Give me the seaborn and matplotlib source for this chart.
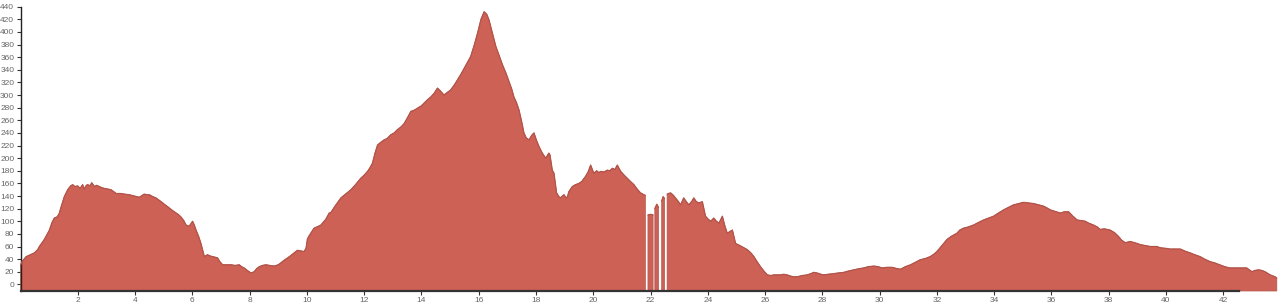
import numpy as np
import pandas as pd
import matplotlib
matplotlib.use("Agg")
import matplotlib.pyplot as plt
import seaborn as sns

NA = float("nan")

# distance (km) and elevation (m); NaN marks missing samples (gaps)
km = [
    0.00, 0.05, 0.20, 0.35, 0.49, 0.60, 0.66, 0.83, 1.01, 1.10, 1.18, 1.28, 1.35, 1.42, 1.53, 1.65,
    1.75, 1.82, 1.90, 2.00, 2.08, 2.17, 2.23, 2.30, 2.35, 2.42, 2.49, 2.58, 2.66, 2.75, 2.85, 2.93,
    3.05, 3.16, 3.25, 3.34, 3.50, 3.63, 3.80, 3.97, 4.15, 4.25, 4.32, 4.42, 4.50, 4.62, 4.73, 4.82,
    4.91, 5.02, 5.14, 5.25, 5.37, 5.50, 5.60, 5.70, 5.78, 5.89, 5.95, 6.01, 6.07, 6.13, 6.22, 6.30,
    6.42, 6.53, 6.62, 6.71, 6.80, 6.88, 6.96, 7.06, 7.20, 7.35, 7.50, 7.64, 7.72, 7.81, 7.92, 8.05,
    8.16, 8.25, 8.34, 8.45, 8.57, 8.70, 8.86, 9.00, 9.09, 9.20, 9.33, 9.45, 9.56, 9.67, 9.79, 9.90,
    9.97, 10.02, 10.08, 10.25, 10.40, 10.49, 10.60, 10.66, 10.78, 10.84, 11.00, 11.19, 11.35, 11.54,
    11.70, 11.88, 12.00, 12.12, 12.22, 12.29, 12.38, 12.47, 12.58, 12.70, 12.80, 12.93, 13.05, 13.16,
    13.30, 13.40, 13.50, 13.63, 13.75, 13.86, 14.00, 14.09, 14.20, 14.33, 14.45, 14.56, 14.65, 14.79,
    14.90, 15.02, 15.15, 15.26, 15.38, 15.49, 15.60, 15.72, 15.85, 15.96, 16.08, 16.19, 16.28, 16.36,
    16.48, 16.60, 16.72, 16.83, 16.95, 17.06, 17.15, 17.23, 17.32, 17.41, 17.50, 17.58, 17.66, 17.76,
    17.85, 17.93, 18.02, 18.11, 18.22, 18.34, 18.45, 18.49, 18.57, 18.63, 18.72, 18.80, 18.86, 18.92,
    18.98, 19.05, 19.10, 19.15, 19.27, 19.38, 19.50, 19.60, 19.73, 19.82, 19.91, 20.02, 20.12, 20.20,
    20.26, 20.38, 20.49, 20.58, 20.67, 20.76, 20.84, 20.96, 21.08, 21.19, 21.30, 21.42, 21.55, 21.65,
    21.77, 21.82, 21.87, 21.91, 22.00, 22.09, 22.12, 22.15, 22.22, 22.28, 22.34, 22.39, 22.44, 22.49,
    22.54, 22.58, 22.70, 22.80, 22.87, 22.96, 23.05, 23.16, 23.25, 23.34, 23.45, 23.51, 23.60, 23.69,
    23.81, 23.92, 24.02, 24.10, 24.21, 24.30, 24.39, 24.51, 24.60, 24.68, 24.78, 24.86, 24.97, 25.05,
    25.14, 25.26, 25.38, 25.50, 25.61, 25.72, 25.84, 25.96, 26.08, 26.20, 26.31, 26.42, 26.54, 26.65,
    26.77, 26.90, 27.00, 27.12, 27.30, 27.47, 27.60, 27.70, 27.82, 27.95, 28.05, 28.20, 28.40, 28.55,
    28.75, 28.90, 29.10, 29.30, 29.45, 29.60, 29.80, 29.95, 30.09, 30.25, 30.44, 30.60, 30.73, 30.90,
    31.08, 31.25, 31.42, 31.60, 31.77, 31.90, 32.00, 32.15, 32.35, 32.50, 32.70, 32.80, 32.93, 33.10,
    33.28, 33.45, 33.63, 33.80, 33.98, 34.15, 34.33, 34.50, 34.68, 34.85, 35.03, 35.20, 35.38, 35.55,
    35.72, 35.85, 35.96, 36.10, 36.31, 36.45, 36.60, 36.75, 36.90, 37.05, 37.18, 37.30, 37.47, 37.60,
    37.70, 37.85, 38.05, 38.20, 38.34, 38.45, 38.58, 38.75, 38.98, 39.10, 39.33, 39.45, 39.68, 39.80,
    40.00, 40.14, 40.30, 40.50, 40.70, 40.84, 41.00, 41.19, 41.35, 41.54, 41.70, 41.88, 42.05, 42.23,
    42.40, 42.58, 42.82, 43.00, 43.10, 43.23, 43.35, 43.46, 43.64, 43.81, 43.87,
]

elevation = [
    30, 36, 44, 47, 50, 55, 60, 71, 86, 98, 105, 107, 112, 123, 139, 150,
    156, 158, 155, 156, 152, 158, 151, 157, 158, 156, 161, 155, 157, 155, 153, 152,
    151, 150, 147, 144, 144, 143, 142, 140, 138, 141, 143, 142, 142, 139, 137, 134,
    131, 127, 123, 119, 115, 111, 107, 101, 94, 92, 96, 100, 94, 86, 76, 65,
    44, 47, 45, 44, 43, 42, 36, 31, 31, 31, 30, 31, 28, 26, 22, 18,
    20, 25, 28, 30, 31, 30, 29, 31, 34, 38, 42, 46, 50, 54, 53, 52,
    57, 72, 77, 89, 92, 94, 100, 103, 113, 114, 125, 137, 143, 150,
    158, 168, 173, 179, 186, 192, 208, 221, 225, 229, 231, 237, 240, 245,
    250, 255, 263, 274, 276, 279, 283, 287, 292, 297, 303, 311, 307, 300,
    304, 308, 316, 324, 333, 342, 351, 361, 380, 398, 420, 432, 428, 419,
    398, 377, 362, 348, 335, 321, 310, 297, 288, 276, 258, 240, 232, 229,
    236, 240, 228, 218, 208, 200, 208, 205, 181, 176, 145, 139, 137, 140,
    142, 137, 139, 147, 155, 158, 160, 163, 171, 178, 189, 176, 180, 177,
    179, 178, 181, 180, 184, 182, 189, 179, 173, 168, 163, 158, 150, 145,
    142, 141, NA, 110, 111, 110, NA, 120, 127, 122, NA, 132, 139, 136,
    NA, 143, 145, 141, 137, 132, 126, 137, 131, 126, 132, 137, 131, 129,
    131, 108, 103, 100, 105, 100, 97, 108, 92, 81, 84, 86, 65, 63,
    61, 58, 55, 50, 44, 36, 28, 21, 15, 14, 15, 15, 15, 16,
    15, 13, 12, 12, 14, 15, 17, 19, 18, 16, 15, 16, 17, 18,
    19, 21, 23, 25, 26, 28, 29, 28, 26, 27, 27, 25, 24, 28,
    31, 35, 39, 41, 44, 48, 52, 60, 71, 76, 81, 86, 89, 91,
    94, 98, 102, 105, 108, 113, 118, 122, 126, 128, 130, 129, 128, 126,
    124, 121, 118, 116, 113, 115, 115, 108, 102, 101, 100, 97, 94, 91,
    87, 88, 86, 82, 76, 70, 66, 68, 65, 63, 61, 60, 60, 58,
    57, 56, 56, 56, 52, 50, 47, 44, 40, 36, 34, 31, 28, 26,
    26, 26, 26, 20, 22, 23, 22, 20, 15, 12, 10,
]

x_ticks = list(range(2, 44, 2))
y_ticks = list(range(0, 460, 20))

FILL = "#cd6155"
EDGE = "#b3544a"

df = pd.DataFrame({"km": km, "elev": elevation})
df["seg"] = df["elev"].isna().cumsum()
line_df = df.dropna()

sns.set_style("ticks")
plt.rcParams["font.family"] = ["Liberation Sans", "DejaVu Sans"]

fig = plt.figure(figsize=(12.8, 3.07), dpi=100)
ax = fig.add_axes([20.5 / 1280, 16 / 307, (1239 - 20.5) / 1280, (291 - 6.7) / 307])

ymin = -10.5
ax.fill_between(df["km"], df["elev"], ymin, color=FILL, edgecolor=EDGE,
                linewidth=0.5, clip_on=False, zorder=2)
sns.lineplot(data=line_df, x="km", y="elev", units="seg", estimator=None,
             color=EDGE, linewidth=0.9, ax=ax, clip_on=False, zorder=3,
             legend=False, sort=False)

ax.set_xlim(0, 42.55)
ax.set_ylim(ymin, 440)
ax.set_xticks(x_ticks)
ax.set_yticks(y_ticks)
ax.set_xlabel("")
ax.set_ylabel("")
sns.despine(ax=ax)
ax.spines["left"].set_color("#222222")
ax.spines["left"].set_linewidth(1.0)
ax.spines["bottom"].set_color("#333333")
ax.spines["bottom"].set_linewidth(1.6)
ax.spines["bottom"].set_zorder(4)
ax.tick_params(axis="both", length=3, width=0.8, color="#333333",
               labelsize=6, labelcolor="#666666", pad=1.5)

fig.savefig("out.png", dpi=100, facecolor="white")
